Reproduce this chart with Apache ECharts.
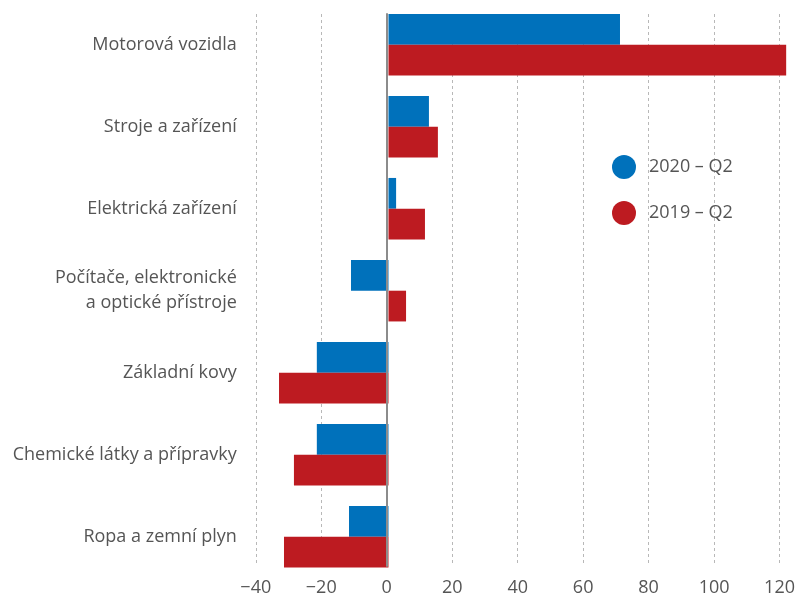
<!DOCTYPE html>
<html>
<head>
<meta charset="utf-8">
<script src="https://cdn.jsdelivr.net/npm/echarts@6/dist/echarts.min.js"></script>
<style>
  html, body { margin: 0; padding: 0; background: #ffffff; }
  #chart { width: 798px; height: 597px; }
</style>
</head>
<body>
<div id="chart"></div>
<script>
// Industry categories, top to bottom
const categories = [
  'Motorová vozidla',
  'Stroje a zařízení',
  'Elektrická zařízení',
  'Počítače, elektronické\na optické přístroje',
  'Základní kovy',
  'Chemické látky a přípravky',
  'Ropa a zemní plyn'
];

const seriesNames = ['2020 – Q2', '2019 – Q2'];

const values2020Q2 = [69.8, 12.2, 2.3, -11.3, -21.6, -21.6, -11.9];
const values2019Q2 = [119.9, 14.9, 11.0, 5.3, -33.0, -28.5, -31.5];

const xTicks = { min: -40, max: 120, interval: 20 };

const FONT = '"Open Sans", "DejaVu Sans", sans-serif';
const TEXT = '#555555';
const BLUE = '#0071bb';
const RED = '#bd1b21';

const PLOT_LEFT = 255.8;
const PLOT_WIDTH = 530.7;

const chart = echarts.init(document.getElementById('chart'), null, { renderer: 'canvas' });

chart.setOption({
  animation: false,
  backgroundColor: '#ffffff',
  textStyle: { fontFamily: FONT },
  legend: {
    orient: 'vertical',
    left: 607,
    top: 150,
    icon: 'circle',
    itemWidth: 24,
    itemHeight: 24,
    itemGap: 22,
    data: seriesNames,
    textStyle: { color: TEXT, fontSize: 18, fontFamily: FONT, padding: [0, 0, 0, 8] }
  },
  grid: [
    // bars
    { left: PLOT_LEFT, width: PLOT_WIDTH, top: 3.7, height: 574, containLabel: false },
    // gridlines, tick labels and zero line
    { left: PLOT_LEFT, width: PLOT_WIDTH, top: 14, height: 553, containLabel: false }
  ],
  xAxis: [
    {
      gridIndex: 0, type: 'value',
      min: xTicks.min, max: xTicks.max, interval: xTicks.interval,
      axisLine: { show: false }, axisTick: { show: false },
      axisLabel: { show: false }, splitLine: { show: false }
    },
    {
      gridIndex: 1, type: 'value', z: 0,
      min: xTicks.min, max: xTicks.max, interval: xTicks.interval,
      axisLine: { show: false }, axisTick: { show: false },
      axisLabel: {
        color: TEXT, fontSize: 18, fontFamily: FONT, margin: 13,
        formatter: v => String(v).replace('-', '\u2212')
      },
      splitLine: { show: true, lineStyle: { color: '#b8b8b8', width: 1, type: [3, 3] } }
    }
  ],
  yAxis: [
    {
      gridIndex: 0, type: 'category', inverse: true, data: categories,
      axisLine: { show: false }, axisTick: { show: false },
      splitLine: { show: false },
      axisLabel: {
        color: TEXT, fontSize: 18, fontFamily: FONT, margin: 19, lineHeight: 25, align: 'right'
      }
    },
    {
      gridIndex: 1, type: 'value', min: 0, max: 1, z: 5,
      axisLine: { show: true, onZero: true, lineStyle: { color: '#8c8c8c', width: 2 } },
      axisTick: { show: false }, axisLabel: { show: false }, splitLine: { show: false }
    }
  ],
  series: [
    {
      name: seriesNames[0], type: 'bar', xAxisIndex: 0, yAxisIndex: 0,
      data: values2020Q2, itemStyle: { color: BLUE },
      barGap: '0%', barCategoryGap: '25%'
    },
    {
      name: seriesNames[1], type: 'bar', xAxisIndex: 0, yAxisIndex: 0,
      data: values2019Q2, itemStyle: { color: RED },
      barGap: '0%', barCategoryGap: '25%'
    }
  ]
});
</script>
</body>
</html>
